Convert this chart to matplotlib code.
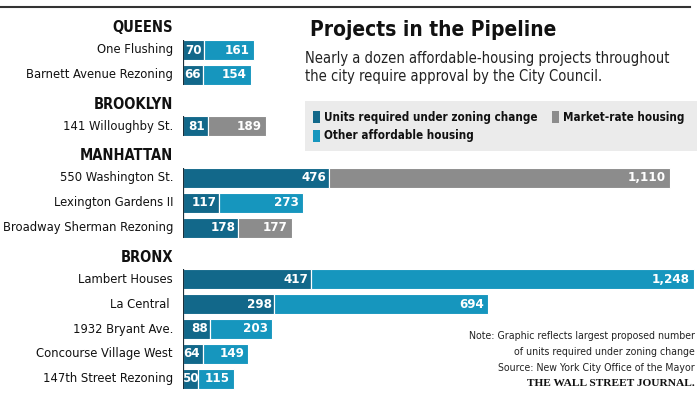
import matplotlib
matplotlib.use('Agg')
from matplotlib import pyplot as plt
from matplotlib.patches import Rectangle

# datos del grafico
grupos = ['QUEENS', 'BROOKLYN', 'MANHATTAN', 'BRONX']
proyectos = [
    ['One Flushing', 'Barnett Avenue Rezoning'],
    ['141 Willoughby St.'],
    ['550 Washington St.', 'Lexington Gardens II', 'Broadway Sherman Rezoning'],
    ['Lambert Houses', 'La Central ', '1932 Bryant Ave.', 'Concourse Village West', '147th Street Rezoning'],
]
requeridas = [70, 66, 81, 476, 117, 178, 417, 298, 88, 64, 50]
otras = [161, 154, 0, 0, 273, 0, 1248, 694, 203, 149, 115]
mercado = [0, 0, 189, 1110, 0, 177, 0, 0, 0, 0, 0]

c_req = '#12688a'
c_otra = '#1696be'
c_merc = '#8c8c8c'

fuente = 'DejaVu Sans'
estirar = 'condensed'

fig = plt.figure(figsize=(7, 3.93), dpi=100)
fondo = fig.add_axes([0, 0, 1, 1])
fondo.set_xlim(0, 700)
fondo.set_ylim(393, 0)
fondo.axis('off')

escala = 0.307  # pixeles por unidad
ax = fig.add_axes([183 / 700, 0, 517 / 700, 1])
ax.set_xlim(0, 517 / escala)
ax.set_ylim(393, 0)
ax.axis('off')

# posiciones de las filas
paso = 24.9
hueco = 26.6
y = 50
ys = []
cabeceras = []
for g, lista in enumerate(proyectos):
    if g > 0:
        y += hueco
    cabeceras.append(y - 22)
    inicio = y
    for p in lista:
        ys.append(y)
        y += paso
    fin = y - paso
    ax.vlines(0, inicio - 10, fin + 10, color='#1c2f3a', lw=1.6, zorder=5)

nombres = [p for lista in proyectos for p in lista]

alto = 20
ax.barh(ys, requeridas, height=alto, color=c_req, edgecolor='white', lw=0.8)
ax.barh(ys, otras, left=requeridas, height=alto, color=c_otra, edgecolor='white', lw=0.8)
ax.barh(ys, mercado, left=requeridas, height=alto, color=c_merc, edgecolor='white', lw=0.8)

pad = 4 / escala
for i in range(len(ys)):
    fin1 = requeridas[i]
    if fin1 < 60:
        ax.text(fin1 / 2, ys[i], f'{fin1:,}', ha='center', va='center', color='white',
                fontsize=9.5, fontweight='bold', family=fuente, fontstretch=estirar)
    else:
        ax.text(fin1 - pad * 0.6, ys[i], f'{fin1:,}', ha='right', va='center', color='white',
                fontsize=9.5, fontweight='bold', family=fuente, fontstretch=estirar)
    resto = otras[i] + mercado[i]
    if resto > 0:
        ax.text(fin1 + resto - pad, ys[i], f'{resto:,}', ha='right', va='center', color='white',
                fontsize=9.5, fontweight='bold', family=fuente, fontstretch=estirar)

for nombre, yy in zip(nombres, ys):
    fondo.text(173, yy, nombre, ha='right', va='center', fontsize=9.3,
               family=fuente, fontstretch=estirar, color='#111111')
for g, yy in zip(grupos, cabeceras):
    fondo.text(173, yy, g, ha='right', va='center', fontsize=10.5, fontweight='bold',
               family=fuente, fontstretch=estirar, color='#111111')

# linea superior
fondo.plot([0, 690], [7, 7], color='#333333', lw=1.5)

# titulo y subtitulo
fondo.text(310, 30, 'Projects in the Pipeline', fontsize=15, fontweight='bold',
           family=fuente, fontstretch=estirar, va='center', color='#111111')
fondo.text(305, 58, 'Nearly a dozen affordable-housing projects throughout', fontsize=10.5,
           family=fuente, fontstretch=estirar, va='center', color='#222222')
fondo.text(305, 76, 'the city require approval by the City Council.', fontsize=10.5,
           family=fuente, fontstretch=estirar, va='center', color='#222222')

# leyenda
fondo.add_patch(Rectangle((305, 101), 392, 50, color='#ebebeb', lw=0))
leyenda = [
    (313, 117, c_req, 'Units required under zoning change'),
    (552, 117, c_merc, 'Market-rate housing'),
    (313, 136, c_otra, 'Other affordable housing'),
]
for lx, ly, col, txt in leyenda:
    fondo.add_patch(Rectangle((lx, ly - 6), 7, 12, color=col, lw=0))
    fondo.text(lx + 11, ly, txt, fontsize=8.4, fontweight='bold', family=fuente,
               fontstretch=estirar, va='center', color='#111111')

# notas
notas = ['Note: Graphic reflects largest proposed number',
         'of units required under zoning change',
         'Source: New York City Office of the Mayor']
for k, n in enumerate(notas):
    fondo.text(695, 336 + 16 * k, n, ha='right', va='center', fontsize=7.6,
               family=fuente, fontstretch=estirar, color='#222222')
fondo.text(695, 384, 'THE WALL STREET JOURNAL.', ha='right', va='center', fontsize=8.2,
           family='Liberation Serif', fontweight='bold', color='#111111')

fig.savefig('out.png', dpi=100)
